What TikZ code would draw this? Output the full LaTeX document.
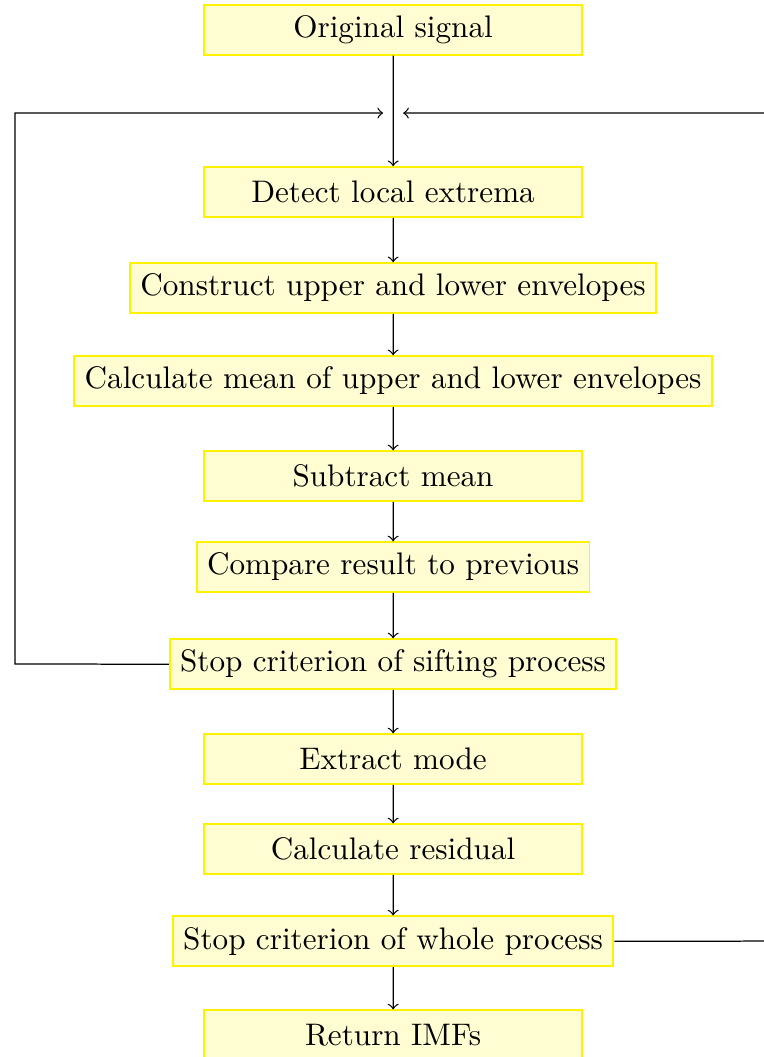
\documentclass[tikz,border=0pt]{standalone}
\begin{document}
\begin{tikzpicture}[scale=1.015,box/.style={draw=yellow,semithick,fill=yellow!18,minimum width=4.26cm,minimum height=0.56cm}]
\useasboundingbox (0,0) rectangle (8.478,-11.744);
\node[box] (orig) at (4.367,-0.333) {Original signal};
\node[box] (detect) at (4.367,-2.133) {Detect local extrema};
\node[box] (env) at (4.367,-3.2) {Construct upper and lower envelopes};
\node[box] (mean) at (4.367,-4.233) {Calculate mean of upper and lower envelopes};
\node[box] (sub) at (4.367,-5.289) {Subtract mean};
\node[box] (comp) at (4.367,-6.3) {Compare result to previous};
\node[box] (sift) at (4.367,-7.378) {Stop criterion of sifting process};
\node[box] (mode) at (4.367,-8.433) {Extract mode};
\node[box] (res) at (4.367,-9.433) {Calculate residual};
\node[box] (whole) at (4.367,-10.456) {Stop criterion of whole process};
\node[box] (imfs) at (4.367,-11.5) {Return IMFs};
\coordinate (jl) at (4.256,-1.256);
\coordinate (jr) at (4.478,-1.256);
\draw[->] (orig) -- (detect);
\draw[->] (detect) -- (env);
\draw[->] (env) -- (mean);
\draw[->] (mean) -- (sub);
\draw[->] (sub) -- (comp);
\draw[->] (comp) -- (sift);
\draw[->] (sift) -- (mode);
\draw[->] (mode) -- (res);
\draw[->] (res) -- (whole);
\draw[->] (whole) -- (imfs);
\draw[->] (sift.west) -- (0.167,-7.378) -- (0.167,-1.256) -- (jl);
\draw[->] (whole.east) -- (8.6,-10.456) -- (8.6,-1.256) -- (jr);
\end{tikzpicture}
\end{document}
